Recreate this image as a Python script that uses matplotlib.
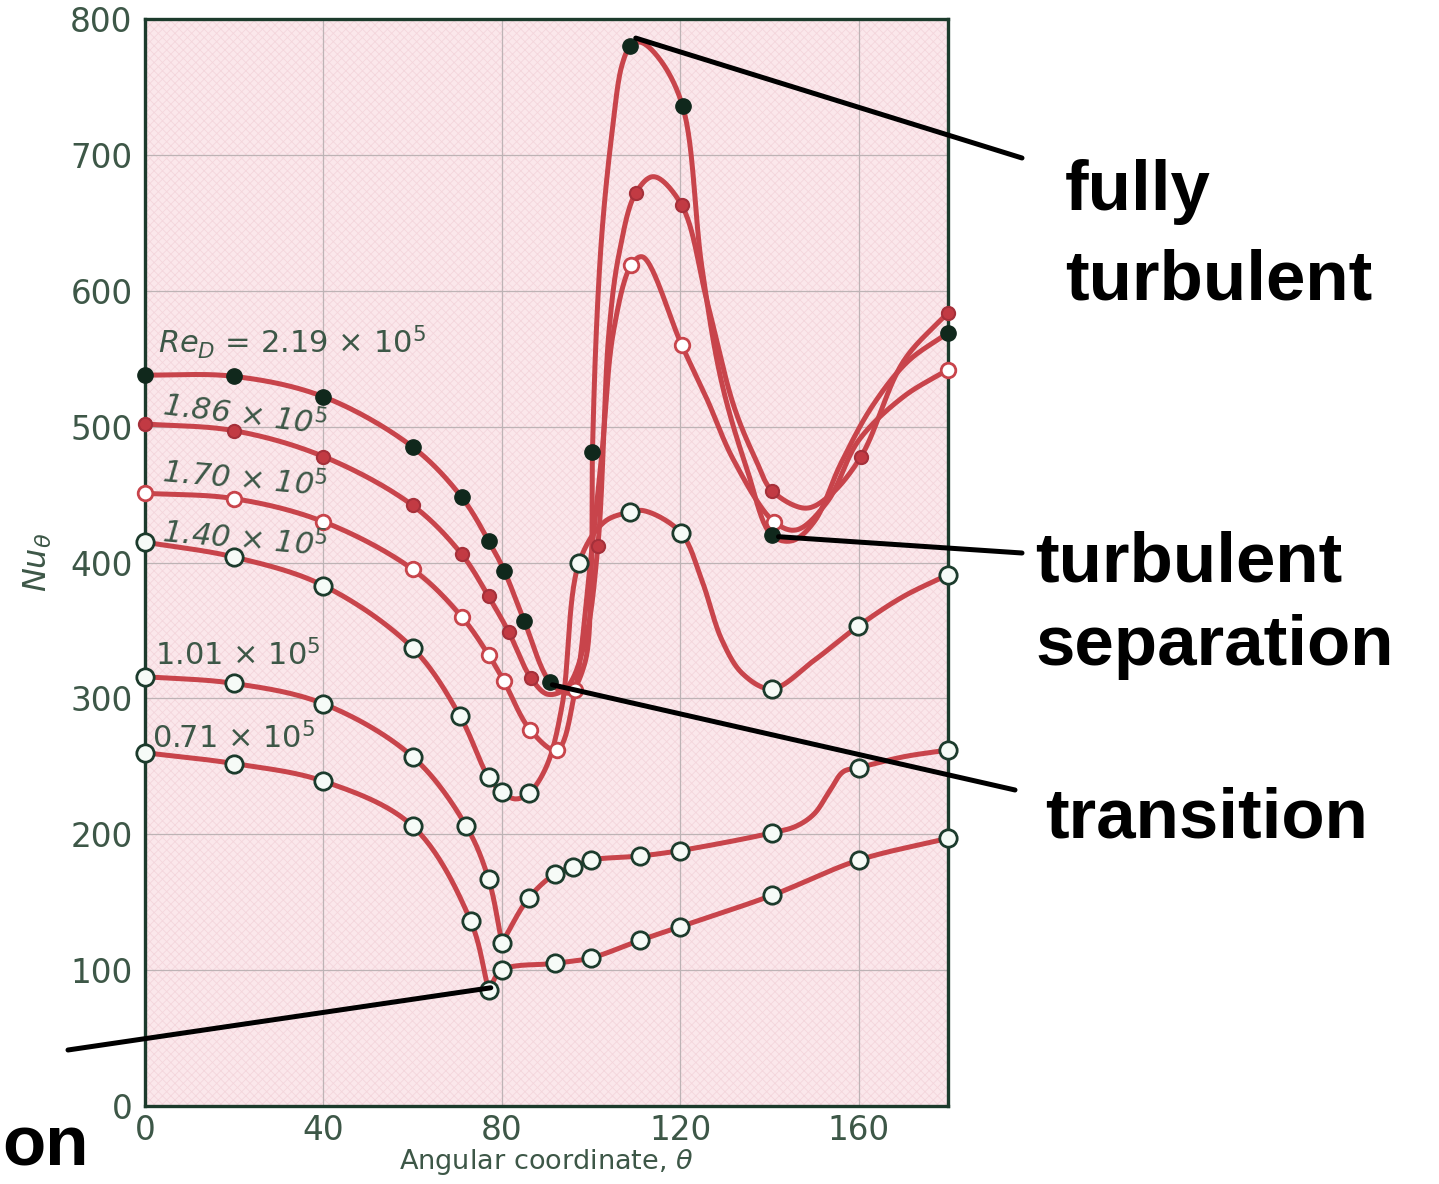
import matplotlib
matplotlib.use("Agg")
import matplotlib.pyplot as plt
from matplotlib.patches import Rectangle
import numpy as np

# Local Nusselt number around a cylinder, Nu_theta vs theta (deg)
re_labels = ["2.19", "1.86", "1.70", "1.40", "1.01", "0.71"]

re219_theta = [0, 20, 40, 60, 71, 77, 80.5, 85, 90.8, 100.3, 108.8, 120.5, 140.5, 180]
re219_nu = [538, 537, 522, 485, 448, 416, 394, 357, 312, 481, 780, 736, 420, 569]
re219_trace_theta = [95, 98.5, 100, 101.3, 102.6, 104.7, 106.9, 111, 115, 124.8, 129.3, 135, 145, 150, 156, 163, 171]
re219_trace_nu = [304, 325, 390, 580, 650, 717, 766, 783, 772, 618, 532, 468, 416, 430, 473, 515, 548]

re186_theta = [0, 20, 40, 60, 71, 77, 81.5, 86.5, 101.5, 110, 120.3, 140.5, 160.5, 180]
re186_nu = [502, 497, 478, 442, 406, 375, 349, 315, 412, 672, 663, 453, 478, 584]
re186_trace_theta = [90.3, 94.5, 98.5, 104, 106.3, 114, 126, 132, 137, 148, 153, 170]
re186_trace_nu = [303, 308, 340, 570, 628, 684, 592, 515, 475, 440, 448, 548]

re170_theta = [0, 20, 40, 60, 71, 77, 80.4, 86.3, 92.3, 96.4, 109, 120.3, 141, 180]
re170_nu = [451, 447, 430, 395, 360, 332, 313, 277, 262, 306, 619, 560, 430, 542]
re170_trace_theta = [99.5, 102.4, 105, 111.5, 126, 132, 146, 153, 160, 170]
re170_trace_nu = [390, 480, 570, 625, 520, 475, 424, 445, 490, 522]

re140_theta = [0, 20, 40, 60, 70.6, 77, 80, 86, 97.3, 108.7, 120.1, 140.5, 159.8, 180]
re140_nu = [415, 404, 383, 337, 287, 242, 231, 230, 400, 437, 422, 307, 353, 391]
re140_trace_theta = [83, 90, 93.5, 103, 112, 124.8, 129.3, 134, 150, 170]
re140_trace_nu = [226, 250, 295, 430, 438, 387, 343, 318, 328, 375]

re101_theta = [0, 20, 40, 60, 72, 77, 80, 86, 92, 96, 100, 111, 120, 140.5, 160, 180]
re101_nu = [316, 311, 296, 257, 206, 167, 120, 153, 171, 176, 181, 184, 188, 201, 249, 262]
re101_trace_theta = [146, 150, 153.5, 156.5, 170]
re101_trace_nu = [206, 215, 232, 246, 257]
re101_corner = 80

re071_theta = [0, 20, 40, 60, 73, 77, 80, 92, 100, 111, 120, 140.5, 160, 180]
re071_nu = [260, 252, 239, 206, 136, 85, 100, 105, 109, 122, 132, 155, 181, 197]
re071_corner = 77

RED = "#c8444b"
GREEN = "#1c3b2c"
TXT = "#3d5747"


def smooth(xs, ys, n=30):
    # centripetal catmull-rom through the knots, done in pixel-like units
    sx, sy = 4.46, 1.36
    p = np.column_stack([np.asarray(xs, float) * sx, np.asarray(ys, float) * sy])
    if len(p) < 3:
        return p[:, 0] / sx, p[:, 1] / sy
    p = np.vstack([2 * p[0] - p[1], p, 2 * p[-1] - p[-2]])
    out = []
    for i in range(1, len(p) - 2):
        p0, p1, p2, p3 = p[i - 1], p[i], p[i + 1], p[i + 2]
        t0 = 0.0
        t1 = t0 + max(np.linalg.norm(p1 - p0), 1e-6) ** 0.5
        t2 = t1 + max(np.linalg.norm(p2 - p1), 1e-6) ** 0.5
        t3 = t2 + max(np.linalg.norm(p3 - p2), 1e-6) ** 0.5
        t = np.linspace(t1, t2, n)[:, None]
        a1 = (t1 - t) / (t1 - t0) * p0 + (t - t0) / (t1 - t0) * p1
        a2 = (t2 - t) / (t2 - t1) * p1 + (t - t1) / (t2 - t1) * p2
        a3 = (t3 - t) / (t3 - t2) * p2 + (t - t2) / (t3 - t2) * p3
        b1 = (t2 - t) / (t2 - t0) * a1 + (t - t0) / (t2 - t0) * a2
        b2 = (t3 - t) / (t3 - t1) * a2 + (t - t1) / (t3 - t1) * a3
        c = (t2 - t) / (t2 - t1) * b1 + (t - t1) / (t2 - t1) * b2
        out.append(c if i == len(p) - 3 else c[:-1])
    out = np.vstack(out)
    return out[:, 0] / sx, out[:, 1] / sy


def knots(theta, nu, tt=(), tn=()):
    pts = sorted(zip(list(theta) + list(tt), list(nu) + list(tn)))
    return [a for a, b in pts], [b for a, b in pts]


def draw_curve(ax, theta, nu, tt=(), tn=(), corner=None):
    kx, ky = knots(theta, nu, tt, tn)
    if corner is None:
        parts = [(kx, ky)]
    else:
        k = kx.index(corner)
        parts = [(kx[:k + 1], ky[:k + 1]), (kx[k:], ky[k:])]
    for px, py in parts:
        cx, cy = smooth(px, py)
        ax.plot(cx, cy, color=RED, lw=3.6, solid_capstyle="round", zorder=3, clip_on=False)


fig = plt.figure(figsize=(14.39, 11.84), dpi=100)
ax = fig.add_axes([0.1008, 0.0659, 0.558, 0.918])
ax.set_facecolor("#fbe7eb")
plt.rcParams["hatch.linewidth"] = 0.6
ax.add_patch(Rectangle((0, 0), 1, 1, transform=ax.transAxes, fill=False,
                       hatch="xxxx", edgecolor="#f4d6dc", lw=0, zorder=0))

ax.set_xlim(0, 180)
ax.set_ylim(0, 800)
ax.set_xticks([0, 40, 80, 120, 160])
ax.set_yticks(range(0, 801, 100))
ax.grid(True, color="#bdb3b5", lw=0.9, zorder=1)
ax.tick_params(length=0, labelsize=23.5, labelcolor=TXT, pad=9)
ax.tick_params(axis="x", pad=6)
for s in ax.spines.values():
    s.set_color(GREEN)
    s.set_linewidth(2.4)
    s.set_zorder(4)

draw_curve(ax, re219_theta, re219_nu, re219_trace_theta, re219_trace_nu)
draw_curve(ax, re186_theta, re186_nu, re186_trace_theta, re186_trace_nu)
draw_curve(ax, re170_theta, re170_nu, re170_trace_theta, re170_trace_nu)
draw_curve(ax, re140_theta, re140_nu, re140_trace_theta, re140_trace_nu)
draw_curve(ax, re101_theta, re101_nu, re101_trace_theta, re101_trace_nu, corner=re101_corner)
draw_curve(ax, re071_theta, re071_nu, corner=re071_corner)

mk = dict(ls="none", marker="o", zorder=5, clip_on=False)
ax.plot(re071_theta, re071_nu, ms=12.5, mfc="#f6fbf7", mec=GREEN, mew=2.0, **mk)
ax.plot(re101_theta, re101_nu, ms=12.5, mfc="#f6fbf7", mec=GREEN, mew=2.0, **mk)
ax.plot(re140_theta, re140_nu, ms=12.5, mfc="#f6fbf7", mec=GREEN, mew=2.0, **mk)
ax.plot(re170_theta, re170_nu, ms=10.5, mfc="white", mec=RED, mew=2.0, **mk)
ax.plot(re186_theta, re186_nu, ms=9.5, mfc="#c23a43", mec="#a5303a", mew=1.5, **mk)
ax.plot(re219_theta, re219_nu, ms=11, mfc="#10281c", mec="#10281c", mew=1.0, **mk)

# curve labels
lab_kw = dict(color=TXT, fontsize=22, ha="left", va="center", zorder=6)
ax.text(2.9, 562, r"$\mathit{Re}_D$ = %s $\times$ 10$^5$" % re_labels[0], **lab_kw)
ax.text(3.4, 508, r"%s $\times$ 10$^5$" % re_labels[1], rotation=-7, style="italic", **lab_kw)
ax.text(3.4, 461, r"%s $\times$ 10$^5$" % re_labels[2], rotation=-5, style="italic", **lab_kw)
ax.text(3.4, 417, r"%s $\times$ 10$^5$" % re_labels[3], rotation=-5, style="italic", **lab_kw)
ax.text(2.2, 332, r"%s $\times$ 10$^5$" % re_labels[4], **lab_kw)
ax.text(1.6, 271, r"%s $\times$ 10$^5$" % re_labels[5], **lab_kw)

ax.set_xlabel(r"Angular coordinate, $\theta$", fontsize=19.5, color=TXT, labelpad=0)
ax.set_ylabel(r"$\mathit{Nu}_\theta$", fontsize=23, color=TXT, labelpad=12)

# regime annotations (black callouts)
W, H = 1439.0, 1184.0
ann = dict(fontsize=51, fontweight="bold", color="black", family="Liberation Sans",
           ha="left", va="baseline")
fig.text(1065 / W, 1 - 210 / H, "fully", **ann)
fig.text(1065 / W, 1 - 300 / H, "turbulent", **ann)
fig.text(1035 / W, 1 - 582 / H, "turbulent", **ann)
fig.text(1035 / W, 1 - 665 / H, "separation", **ann)
fig.text(1045 / W, 1 - 837 / H, "transition", **ann)
fig.text(2 / W, 1 - 1165 / H, "on", **ann)

arrow = dict(arrowstyle="-", lw=3.6, color="black", shrinkA=0, shrinkB=0)
callouts = [
    ((re219_theta[10] + 1.2, re219_nu[10] + 6), (1022, 158)),
    ((re219_theta[12] + 1.5, re219_nu[12] - 1), (1022, 553)),
    ((re219_theta[8] + 0.5, re219_nu[8] - 2), (1015, 790)),
    ((re071_theta[5] + 0.5, re071_nu[5] + 2), (68, 1050)),
]
for xy, (px, py) in callouts:
    ax.annotate("", xy=xy, xycoords="data", xytext=(px / W, 1 - py / H),
                textcoords="figure fraction", arrowprops=arrow, zorder=7,
                annotation_clip=False)

fig.savefig("out.png", dpi=100, facecolor="white")
